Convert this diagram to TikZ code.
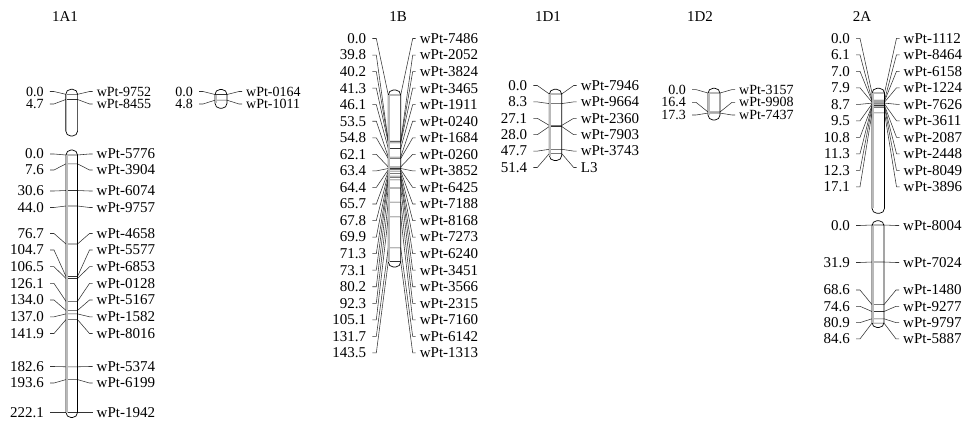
\documentclass[tikz,border=0pt]{standalone}
\usepackage{fontspec}
\setmainfont{Liberation Serif}
\def\lblsize{15}
\newcommand\lblfont{\fontsize{\lblsize}{\lblsize}\selectfont}
\newcommand\ChL{0}
\newcommand\ChR{0}
% marker: id, marker y, label y, left text, right text
\newcommand\mk[5]{%
  \node[lt] (#1L) at ({\ChL-22},#3) {#4};
  \node[rt] (#1R) at ({\ChR+19},#3) {#5};
  \draw[con] ([xshift=6pt]#1L.east) -- ++(4,0) -- (\ChL,#2) -- (\ChR,#2) -- ({\ChR+12},#3) -- ([xshift=-4pt]#1R.west);
}
\newcommand\chrfill[2]{\fill[white, rounded corners=5pt] (\ChL,#1) rectangle (\ChR,#2);}
\newcommand\chrdraw[2]{%
  \draw[chr] (\ChL,#1) rectangle (\ChR,#2);
  \draw[gray!55, line width=1.4pt] ({\ChL+0.8},{#1+5}) -- ({\ChL+0.8},{#2-5});
}
\tikzset{
  lt/.style={font=\lblfont, inner sep=0pt, anchor=east},
  rt/.style={font=\lblfont, inner sep=0pt, anchor=west},
  hdr/.style={font=\lblfont, inner sep=0pt},
  con/.style={draw=black!80, line width=0.55pt},
  chr/.style={draw=black, line width=0.7pt, rounded corners=5pt}
}
\begin{document}
\begin{tikzpicture}[x=1pt,y=-1pt]
\useasboundingbox (0,0) rectangle (967,423);
\fill[white] (0,0) rectangle (967,423);

% headers
\node[hdr] (h1A1) at (65,17) {1A1};
\node[hdr] (h1B) at (398,17) {1B};
\node[hdr] (h1D1) at (548,17) {1D1};
\node[hdr] (h1D2) at (700,17) {1D2};
\node[hdr] (h2A) at (862,17) {2A};

% ---- 1A1 small fragment ----
\def\lblsize{14}
\def\ChL{65.8}\def\ChR{77.6}
\chrfill{89.3}{136}
\mk{a1}{94.3}{91.5}{0.0}{wPt-9752}
\mk{a2}{99.5}{104}{4.7}{wPt-8455}
\chrdraw{89.3}{136}

% ---- second small fragment ----
\def\ChL{215}\def\ChR{227}
\chrfill{89.5}{108.3}
\mk{b1}{94.5}{91.5}{0.0}{wPt-0164}
\mk{b2}{100.2}{104}{4.8}{wPt-1011}
\chrdraw{89.5}{108.3}

% ---- 1A1 large ----
\def\lblsize{15}
\def\ChL{66}\def\ChR{77.5}
\chrfill{150}{417.5}
\mk{c1}{155}{154}{0.0}{wPt-5776}
\mk{c2}{163.8}{170}{7.6}{wPt-3904}
\mk{c3}{190.5}{191}{30.6}{wPt-6074}
\mk{c4}{206}{207.5}{44.0}{wPt-9757}
\mk{c5}{244}{233.5}{76.7}{wPt-4658}
\mk{c6}{276.5}{250}{104.7}{wPt-5577}
\mk{c7}{278.5}{266.7}{106.5}{wPt-6853}
\mk{c8}{301.3}{283.4}{126.1}{wPt-0128}
\mk{c9}{310.4}{300}{134.0}{wPt-5167}
\mk{c10}{313.9}{316.8}{137.0}{wPt-1582}
\mk{c11}{319.6}{333.5}{141.9}{wPt-8016}
\mk{c12}{366.8}{366.5}{182.6}{wPt-5374}
\mk{c13}{379.6}{383}{193.6}{wPt-6199}
\mk{c14}{412.6}{412.6}{222.1}{wPt-1942}
\chrdraw{150}{417.5}

% ---- 1B ----
\def\ChL{388.3}\def\ChR{400.7}
\chrfill{90}{267}
\mk{d0}{95.0}{38.5}{0.0}{wPt-7486}
\mk{d1}{141.2}{55.05}{39.8}{wPt-2052}
\mk{d2}{141.6}{71.6}{40.2}{wPt-3824}
\mk{d3}{142.9}{88.15}{41.3}{wPt-3465}
\mk{d4}{148.5}{104.7}{46.1}{wPt-1911}
\mk{d5}{157.1}{121.25}{53.5}{wPt-0240}
\mk{d6}{158.6}{137.8}{54.8}{wPt-1684}
\mk{d7}{167.0}{154.35}{62.1}{wPt-0260}
\mk{d8}{168.5}{170.9}{63.4}{wPt-3852}
\mk{d9}{169.7}{187.45}{64.4}{wPt-6425}
\mk{d10}{171.2}{204.0}{65.7}{wPt-7188}
\mk{d11}{173.6}{220.55}{67.8}{wPt-8168}
\mk{d12}{176.1}{237.1}{69.9}{wPt-7273}
\mk{d13}{177.7}{253.65}{71.3}{wPt-6240}
\mk{d14}{179.8}{270.2}{73.1}{wPt-3451}
\mk{d15}{188.0}{286.75}{80.2}{wPt-3566}
\mk{d16}{202.1}{303.3}{92.3}{wPt-2315}
\mk{d17}{216.9}{319.85}{105.1}{wPt-7160}
\mk{d18}{247.8}{336.4}{131.7}{wPt-6142}
\mk{d19}{261.5}{352.95}{143.5}{wPt-1313}
\chrdraw{90}{267}

% ---- 1D1 ----
\def\ChL{549.3}\def\ChR{561.7}
\chrfill{89.3}{160.5}
\mk{e0}{94}{85.5}{0.0}{wPt-7946}
\mk{e1}{103.6}{101.9}{8.3}{wPt-9664}
\mk{e2}{125.4}{118.3}{27.1}{wPt-2360}
\mk{e3}{126.5}{134.7}{28.0}{wPt-7903}
\mk{e4}{149.3}{151.1}{47.7}{wPt-3743}
\mk{e5}{153.6}{167.5}{51.4}{L3}
\chrdraw{89.3}{160.5}

% ---- 1D2 ----
\def\lblsize{14}
\def\ChL{708}\def\ChR{720}
\chrfill{88.3}{120}
\mk{f0}{93}{89.6}{0.0}{wPt-3157}
\mk{f1}{112}{102.3}{16.4}{wPt-9908}
\mk{f2}{113.1}{115}{17.3}{wPt-7437}
\chrdraw{88.3}{120}

% ---- 2A upper ----
\def\lblsize{15}
\def\ChL{872}\def\ChR{884.5}
\chrfill{88.3}{213.3}
\mk{g0}{93}{38.3}{0.0}{wPt-1112}
\mk{g1}{100.1}{54.8}{6.1}{wPt-8464}
\mk{g2}{101.1}{71.3}{7.0}{wPt-6158}
\mk{g3}{102.2}{87.8}{7.9}{wPt-1224}
\mk{g4}{103.1}{104.3}{8.7}{wPt-7626}
\mk{g5}{104.0}{120.8}{9.5}{wPt-3611}
\mk{g6}{105.5}{137.3}{10.8}{wPt-2087}
\mk{g7}{106.1}{153.8}{11.3}{wPt-2448}
\mk{g8}{107.3}{170.3}{12.3}{wPt-8049}
\mk{g9}{112.8}{186.8}{17.1}{wPt-3896}
\chrdraw{88.3}{213.3}

% ---- 2A lower ----
\def\ChL{872}\def\ChR{884}
\chrfill{220.7}{327.5}
\mk{k0}{225}{225.5}{0.0}{wPt-8004}
\mk{k1}{262}{262.5}{31.9}{wPt-7024}
\mk{k2}{304.6}{290}{68.6}{wPt-1480}
\mk{k3}{311.5}{306.3}{74.6}{wPt-9277}
\mk{k4}{318.8}{322.6}{80.9}{wPt-9797}
\mk{k5}{323.1}{338.9}{84.6}{wPt-5887}
\chrdraw{220.7}{327.5}
\end{tikzpicture}
\end{document}
